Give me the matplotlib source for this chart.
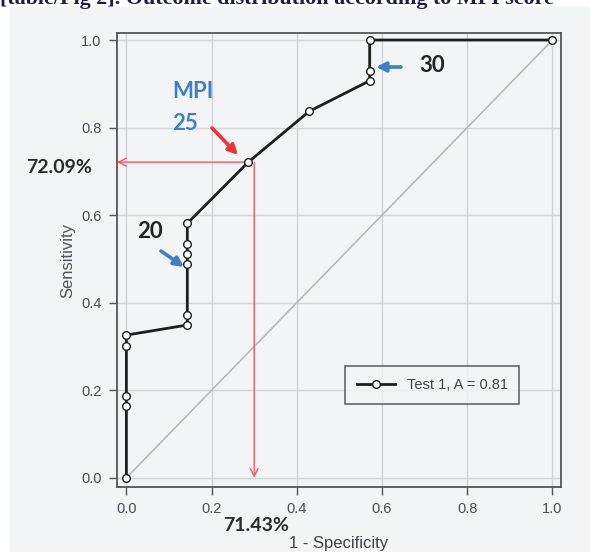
import matplotlib
matplotlib.use("Agg")
import matplotlib.pyplot as plt
from matplotlib.patches import Rectangle, FancyArrowPatch

# ── Data ───────────────────────────────────────────────
fpr = [0.0, 0.0, 0.0, 0.0, 0.0, 0.143, 0.143, 0.143, 0.143, 0.143, 0.143,
       0.286, 0.429, 0.571, 0.571, 0.571, 1.0]
tpr = [0.0, 0.163, 0.186, 0.302, 0.326, 0.349, 0.372, 0.488, 0.512, 0.535,
       0.581, 0.721, 0.837, 0.907, 0.930, 1.0, 1.0]
ticks = [0.0, 0.2, 0.4, 0.6, 0.8, 1.0]
tick_labels = ["0.0", "0.2", "0.4", "0.6", "0.8", "1.0"]
legend_label = "Test 1, A = 0.81"
cut_sens = 0.721
cut_x = 0.30
sens_text = "72.09%"
spec_text = "71.43%"

BG = "#f3f4f5"
GRID = "#d2d3d6"
RED = "#f05a5e"
RED_ARROW = "#e8343c"
BLUE = "#3f7fc9"
TICK_TEXT = "#4a4a58"
BOLD_FONT = ["Lato", "DejaVu Sans"]

fig = plt.figure(figsize=(5.9, 5.52), dpi=100, facecolor="white")
fig.patches.append(Rectangle((10 / 590, 0), 1, 1 - 7 / 552,
                             transform=fig.transFigure, color=BG, zorder=-10))

# caption line, cut off at the top edge as in the source scan
fig.text(0.0, 1 - 4 / 552,
         "[table/Fig 2]. Outcome distribution according to MPI score",
         family="Liberation Serif", weight="bold", fontsize=15.8,
         color="#1c1c4e", ha="left", va="baseline")

ax = fig.add_axes([117 / 590, 1 - 487 / 552, 444 / 590, 454 / 552])
ax.set_facecolor(BG)
ax.set_xlim(-0.022, 1.02)
ax.set_ylim(-0.021, 1.016)

for t in ticks:
    ax.axvline(t, color=GRID, lw=1, zorder=0)
    ax.axhline(t, color=GRID, lw=1, zorder=0)

ax.plot([0, 1], [0, 1], color="#b9b9bc", lw=1.2, zorder=1)
ax.plot(fpr, tpr, color="#1e1e1e", lw=2, marker="o", markersize=5.5,
        markerfacecolor="white", markeredgecolor="#1e1e1e",
        markeredgewidth=1, zorder=4, label=legend_label)

# red guide lines to the axes
ax.annotate("", xy=(-0.022, cut_sens), xytext=(0.278, cut_sens),
            arrowprops=dict(arrowstyle="->", color=RED, lw=1,
                            mutation_scale=14, shrinkA=0, shrinkB=0),
            zorder=3)
ax.annotate("", xy=(cut_x, 0.0), xytext=(cut_x, cut_sens),
            arrowprops=dict(arrowstyle="->", color=RED, lw=1,
                            mutation_scale=14, shrinkA=0, shrinkB=0),
            zorder=3)

for s in ax.spines.values():
    s.set_color("#555555")
    s.set_linewidth(1.3)

ax.set_xticks(ticks)
ax.set_yticks(ticks)
ax.set_xticklabels(tick_labels)
ax.set_yticklabels(tick_labels)
ax.tick_params(direction="out", length=6, width=1, color="#555555",
               labelcolor=TICK_TEXT, labelsize=10.5, pad=5)
for lab in ax.get_xticklabels() + ax.get_yticklabels():
    lab.set_family("Liberation Sans")

ax.set_xlabel("1 - Specificity", family="Liberation Sans", fontsize=12,
              color="#404048", labelpad=14)
ax.set_ylabel("Sensitivity", family="Liberation Sans", fontsize=12,
              color="#505060", labelpad=4)

leg = ax.legend(loc="center", bbox_to_anchor=(0.71, 0.225), frameon=True,
                fancybox=False, edgecolor="#444444", facecolor=BG,
                prop={"family": "Liberation Sans", "size": 10.5},
                handlelength=2.6, borderpad=0.8)
leg.get_frame().set_linewidth(1.2)
for txt in leg.get_texts():
    txt.set_color("#404050")

# callout labels
fig.text(172 / 590, 1 - 98 / 552, "MPI", family=BOLD_FONT, weight="bold",
         fontsize=16, color=BLUE, ha="left", va="baseline")
fig.text(172 / 590, 1 - 130 / 552, "25", family=BOLD_FONT, weight="bold",
         fontsize=16, color=BLUE, ha="left", va="baseline")
fig.text(419 / 590, 1 - 72 / 552, "30", family=BOLD_FONT, weight="bold",
         fontsize=16, color="#222222", ha="left", va="baseline")
fig.text(137 / 590, 1 - 238 / 552, "20", family=BOLD_FONT, weight="bold",
         fontsize=16, color="#222222", ha="left", va="baseline")
fig.text(26 / 590, 1 - 173 / 552, sens_text, family=BOLD_FONT, weight="bold",
         fontsize=14, color="#2a2a2a", ha="left", va="baseline")
fig.text(223 / 590, 1 - 531 / 552, spec_text, family=BOLD_FONT, weight="bold",
         fontsize=14, color="#2a2a2a", ha="left", va="baseline")


def callout(x0, y0, x1, y1, color):
    arr = FancyArrowPatch((x0 / 590, 1 - y0 / 552), (x1 / 590, 1 - y1 / 552),
                          transform=fig.transFigure, arrowstyle="-|>",
                          mutation_scale=14, lw=2.6, color=color,
                          shrinkA=0, shrinkB=0)
    fig.patches.append(arr)


callout(212, 128, 238, 155, RED_ARROW)
callout(401, 67, 376, 67, BLUE)
callout(161, 251, 184, 267, BLUE)

fig.savefig("out.png", dpi=100, facecolor="white")
